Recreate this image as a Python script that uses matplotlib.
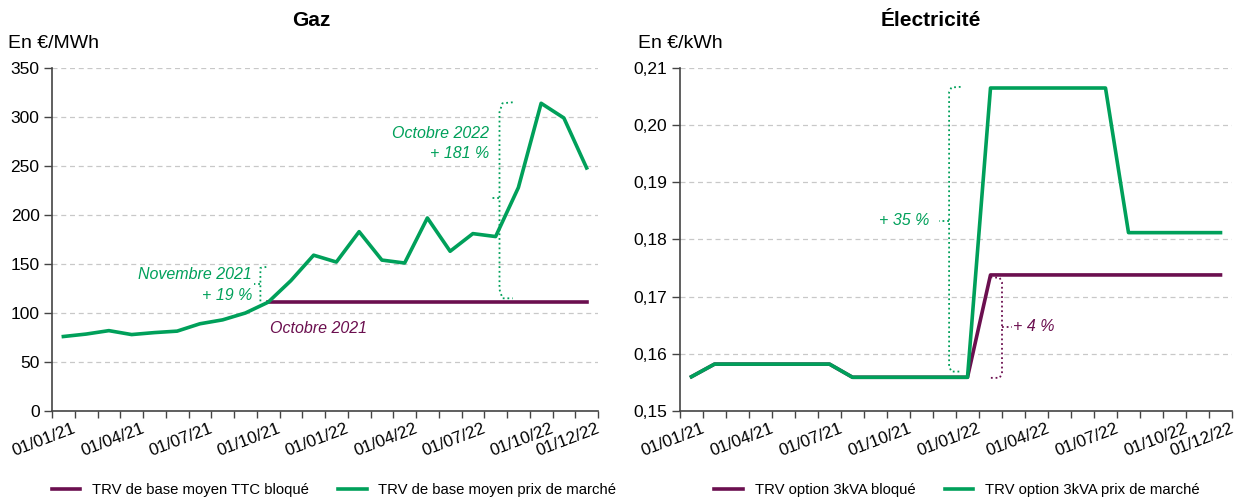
import numpy as np
import matplotlib
matplotlib.use('Agg')
import matplotlib.pyplot as plt
from matplotlib.ticker import FuncFormatter

plt.rcParams['font.family'] = ['Liberation Sans', 'DejaVu Sans']

VIOLET = '#6b0f4f'
VERT = '#00a05a'
GRIS = '#444444'

mois = ['01/01/21', '01/02/21', '01/03/21', '01/04/21', '01/05/21', '01/06/21',
        '01/07/21', '01/08/21', '01/09/21', '01/10/21', '01/11/21', '01/12/21',
        '01/01/22', '01/02/22', '01/03/22', '01/04/22', '01/05/22', '01/06/22',
        '01/07/22', '01/08/22', '01/09/22', '01/10/22', '01/11/22', '01/12/22']
mois_affiches = ['01/01/21', '01/04/21', '01/07/21', '01/10/21', '01/01/22',
                 '01/04/22', '01/07/22', '01/10/22', '01/12/22']

# gaz, en EUR/MWh
gaz_marche = [76, 78.5, 82, 78, 80, 81.5, 89, 93, 100, 111, 133, 159,
              152, 183, 154, 151, 197, 163, 181, 178, 228, 314, 299, 248]
gaz_bloque = [np.nan] * 9 + [111] * 15

# electricite, en EUR/kWh
elec_marche = [0.156] + [0.1582] * 6 + [0.1559] * 6 + [0.2065] * 6 + [0.1812] * 5
elec_bloque = [0.156] + [0.1582] * 6 + [0.1559] * 6 + [0.1738] * 11

W, H = 1237, 500
fig = plt.figure(figsize=(W / 100, H / 100), dpi=100)


def make_ax(x0, x1, y0=68, y1=411):
    return fig.add_axes([x0 / W, 1 - y1 / H, (x1 - x0) / W, (y1 - y0) / H])


def style(ax, ymin, ymax, step, fmt):
    n = len(mois)
    ax.set_xlim(-0.5, n - 0.5)
    ax.set_ylim(ymin, ymax)
    ax.set_yticks(np.arange(ymin, ymax + step / 2, step))
    ax.yaxis.set_major_formatter(FuncFormatter(fmt))
    # labels ancres un peu a droite du centre de la categorie
    pos = [mois.index(m) + 0.4 for m in mois_affiches]
    ax.set_xticks(pos)
    ax.set_xticklabels(mois_affiches, rotation=21, ha='right', rotation_mode='anchor')
    ax.set_xticks(np.arange(-0.5, n, 1), minor=True)
    ax.tick_params(axis='x', which='major', length=0, pad=7, labelsize=12.3)
    ax.tick_params(axis='x', which='minor', length=5, color=GRIS, width=1)
    ax.tick_params(axis='y', length=6, color=GRIS, width=1, labelsize=12.5, pad=3)
    for s in ['top', 'right']:
        ax.spines[s].set_visible(False)
    for s in ['left', 'bottom']:
        ax.spines[s].set_color(GRIS)
        ax.spines[s].set_linewidth(1.2)
    ax.grid(axis='y', color='#c8c8c8', linestyle=(0, (4, 3)), linewidth=0.9)
    ax.set_axisbelow(True)


def accolade(ax, pts, color):
    xs, ys = zip(*pts)
    ax.plot(xs, ys, color=color, linestyle=(0, (1, 1.6)), linewidth=1.3,
            solid_capstyle='round', clip_on=False)


x = np.arange(len(mois))
annot = dict(fontsize=11.5, style='italic', va='center')

# ---------- Gaz ----------
ax1 = make_ax(52, 598)
style(ax1, 0, 350, 50, lambda v, p: f'{v:.0f}')
l1, = ax1.plot(x, gaz_bloque, color=VIOLET, lw=2.6, label='TRV de base moyen TTC bloqué')
l2, = ax1.plot(x, gaz_marche, color=VERT, lw=2.6, label='TRV de base moyen prix de marché')
fig.text(311 / W, 1 - 20 / H, 'Gaz', fontsize=15, fontweight='bold', ha='center', va='center')
fig.text(8 / W, 1 - 43 / H, 'En €/MWh', fontsize=14, va='center', ha='left')

accolade(ax1, [(8.92, 147), (8.66, 146), (8.66, 111)], VERT)
accolade(ax1, [(8.66, 130), (8.4, 130)], VERT)
ax1.text(8.3, 139, 'Novembre 2021', color=VERT, ha='right', **annot)
ax1.text(8.3, 118, '+ 19 %', color=VERT, ha='right', **annot)
ax1.text(11.2, 84, 'Octobre 2021', color=VIOLET, ha='center', **annot)

accolade(ax1, [(19.75, 315), (19.3, 314), (19.17, 305), (19.17, 124),
               (19.3, 115), (19.75, 115)], VERT)
accolade(ax1, [(19.17, 217), (18.75, 217)], VERT)
ax1.text(18.7, 283, 'Octobre 2022', color=VERT, ha='right', **annot)
ax1.text(18.7, 263, '+ 181 %', color=VERT, ha='right', **annot)

fig.legend(handles=[l1, l2], loc='center', bbox_to_anchor=(334 / W, 1 - 490 / H),
           ncol=2, frameon=False, fontsize=10.7, handlelength=1.9,
           handletextpad=0.8, columnspacing=2.0)

# ---------- Electricite ----------
ax2 = make_ax(680, 1232)
style(ax2, 0.15, 0.21, 0.01, lambda v, p: f'{v:.2f}'.replace('.', ','))
l3, = ax2.plot(x, elec_bloque, color=VIOLET, lw=2.6, label='TRV option 3kVA bloqué')
l4, = ax2.plot(x, elec_marche, color=VERT, lw=2.6, label='TRV option 3kVA prix de marché')
fig.text(931 / W, 1 - 20 / H, 'Électricité', fontsize=15, fontweight='bold',
         ha='center', va='center')
fig.text(638 / W, 1 - 43 / H, 'En €/kWh', fontsize=14, va='center', ha='left')

accolade(ax2, [(11.7, 0.2067), (11.3, 0.2066), (11.2, 0.2058), (11.2, 0.1578),
               (11.3, 0.1569), (11.7, 0.1569)], VERT)
accolade(ax2, [(11.2, 0.1833), (10.75, 0.1833)], VERT)
ax2.text(10.35, 0.1834, '+ 35 %', color=VERT, ha='right', **annot)

accolade(ax2, [(13.0, 0.1734), (13.4, 0.1733), (13.5, 0.1725), (13.5, 0.1566),
               (13.4, 0.1558), (13.0, 0.1558)], VIOLET)
accolade(ax2, [(13.5, 0.1647), (13.95, 0.1647)], VIOLET)
ax2.text(14.0, 0.1648, '+ 4 %', color=VIOLET, ha='left', **annot)

fig.legend(handles=[l3, l4], loc='center', bbox_to_anchor=(957 / W, 1 - 490 / H),
           ncol=2, frameon=False, fontsize=10.7, handlelength=1.9,
           handletextpad=0.8, columnspacing=2.0)

fig.savefig('out.png', dpi=100)
